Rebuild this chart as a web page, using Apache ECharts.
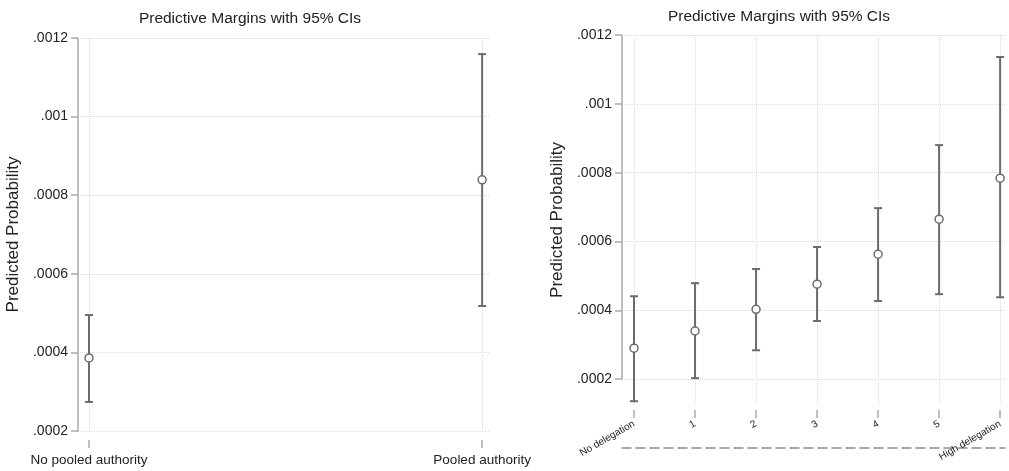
<!DOCTYPE html>
<html>
<head>
<meta charset="utf-8">
<script src="https://cdn.jsdelivr.net/npm/echarts@6/dist/echarts.min.js"></script>
<style>
  html, body { margin: 0; padding: 0; background: #fff; }
  #main { width: 1009px; height: 471px; }
</style>
</head>
<body>
<div id="main"></div>
<script>
// left panel: pooled authority
var leftCats = ['No pooled authority', 'Pooled authority'];
var leftMean = [0.000386, 0.000839];
var leftLow  = [0.000274, 0.000518];
var leftHigh = [0.000495, 0.001159];

// right panel: delegation
var rightCats = ['No delegation', '1', '2', '3', '4', '5', 'High delegation'];
var rightMean = [0.000290, 0.000340, 0.000403, 0.000476, 0.000563, 0.000665, 0.000784];
var rightLow  = [0.000136, 0.000203, 0.000284, 0.000369, 0.000427, 0.000447, 0.000438];
var rightHigh = [0.000441, 0.000479, 0.000520, 0.000584, 0.000697, 0.000880, 0.001136];

var yTicks = [0.0002, 0.0004, 0.0006, 0.0008, 0.001, 0.0012];

var barColor = '#6b6b6b';
var axisGray = '#aaaaaa';
var textColor = '#222';
var font = 'Liberation Sans, Arial, sans-serif';
var rightXMin = -0.197;

function fmtY(v) {
    return String(parseFloat(v.toPrecision(6))).replace(/^0/, '');
}

function errorBar(params, api) {
    var x = api.value(0);
    var lo = api.coord([x, api.value(1)]);
    var hi = api.coord([x, api.value(2)]);
    var w = 4;
    var st = { stroke: barColor, lineWidth: 2 };
    return {
        type: 'group',
        children: [
            { type: 'line', shape: { x1: lo[0], y1: lo[1], x2: hi[0], y2: hi[1] }, style: st },
            { type: 'line', shape: { x1: lo[0] - w, y1: lo[1], x2: lo[0] + w, y2: lo[1] }, style: st },
            { type: 'line', shape: { x1: hi[0] - w, y1: hi[1], x2: hi[0] + w, y2: hi[1] }, style: st }
        ]
    };
}

function idx(arr) {
    return arr.map(function (_, i) { return i; });
}

function xAxisFor(grid, cats, min, max, extra) {
    var ax = {
        type: 'value',
        gridIndex: grid,
        min: min,
        max: max,
        axisLine: { show: false, onZero: false },
        axisTick: { show: true, customValues: idx(cats), length: 8, lineStyle: { color: axisGray, width: 1.5 } },
        axisLabel: {
            customValues: idx(cats),
            formatter: function (v) { return cats[Math.round(v)]; },
            color: textColor,
            fontFamily: font
        },
        splitLine: { show: true, lineStyle: { color: '#dcdcdc', type: 'dotted' } }
    };
    for (var k in extra) {
        if (k === 'axisLabel') Object.assign(ax.axisLabel, extra[k]);
        else ax[k] = extra[k];
    }
    return ax;
}

function yAxisFor(grid, min, showLine) {
    return {
        type: 'value',
        gridIndex: grid,
        min: min,
        max: 0.0012,
        name: 'Predicted Probability',
        nameLocation: 'middle',
        nameGap: 56,
        nameTextStyle: { fontSize: 17, color: textColor, fontFamily: font },
        axisLine: { show: showLine, onZero: false, lineStyle: { color: axisGray, width: 1.5 } },
        axisTick: { show: true, customValues: yTicks, length: 7, lineStyle: { color: axisGray, width: 1.5 } },
        axisLabel: {
            customValues: yTicks,
            formatter: fmtY,
            fontSize: 14,
            margin: 10,
            color: textColor,
            fontFamily: font
        },
        splitLine: { show: true, lineStyle: { color: '#dcdcdc', type: 'dotted' } }
    };
}

var myChart = echarts.init(document.getElementById('main'));
var option = {
    backgroundColor: '#fff',
    animation: false,
    title: [
        { text: 'Predictive Margins with 95% CIs', left: 245, top: 6, textAlign: 'center',
          textStyle: { fontSize: 15.5, fontWeight: 'normal', color: textColor, fontFamily: font } },
        { text: 'Predictive Margins with 95% CIs', left: 774, top: 4, textAlign: 'center',
          textStyle: { fontSize: 15.5, fontWeight: 'normal', color: textColor, fontFamily: font } }
    ],
    grid: [
        { left: 78, top: 38, width: 412, height: 393 },
        { left: 622, top: 35, width: 383, height: 370 }
    ],
    xAxis: [
        xAxisFor(0, leftCats, -0.028, 1.02, { offset: 9, axisLabel: { fontSize: 13.5, margin: 13 } }),
        xAxisFor(1, rightCats, rightXMin, 6.08, { offset: 5, axisLabel: { fontSize: 10, rotate: 30, margin: 13 } }),
        {
            type: 'value', gridIndex: 1, position: 'bottom', offset: 43,
            axisLine: { show: true, onZero: false, lineStyle: { color: '#8a8a8a', width: 1.5, type: [9, 5] } },
            axisTick: { show: false }, axisLabel: { show: false }, splitLine: { show: false }
        }
    ],
    yAxis: [
        yAxisFor(0, 0.0002, true),
        yAxisFor(1, 0.000125, false)
    ],
    series: [
        {
            type: 'custom', xAxisIndex: 0, yAxisIndex: 0,
            renderItem: errorBar,
            data: leftCats.map(function (c, i) { return [i, leftLow[i], leftHigh[i]]; }),
            z: 2
        },
        {
            type: 'scatter', xAxisIndex: 0, yAxisIndex: 0,
            symbol: 'circle', symbolSize: 8,
            itemStyle: { color: '#fff', borderColor: barColor, borderWidth: 1.5, opacity: 1 },
            data: leftCats.map(function (c, i) { return [i, leftMean[i]]; }),
            z: 3
        },
        {
            type: 'custom', xAxisIndex: 1, yAxisIndex: 1,
            renderItem: errorBar,
            data: rightCats.map(function (c, i) { return [i, rightLow[i], rightHigh[i]]; }),
            z: 2,
            // right y axis line only spans the labelled range
            markLine: {
                silent: true,
                symbol: 'none',
                label: { show: false },
                lineStyle: { color: axisGray, width: 1.5, type: 'solid' },
                data: [[
                    { coord: [rightXMin, yTicks[0]] },
                    { coord: [rightXMin, yTicks[yTicks.length - 1]] }
                ]]
            }
        },
        {
            type: 'scatter', xAxisIndex: 1, yAxisIndex: 1,
            symbol: 'circle', symbolSize: 8,
            itemStyle: { color: '#fff', borderColor: barColor, borderWidth: 1.5, opacity: 1 },
            data: rightCats.map(function (c, i) { return [i, rightMean[i]]; }),
            z: 3
        }
    ]
};
myChart.setOption(option);
</script>
</body>
</html>
